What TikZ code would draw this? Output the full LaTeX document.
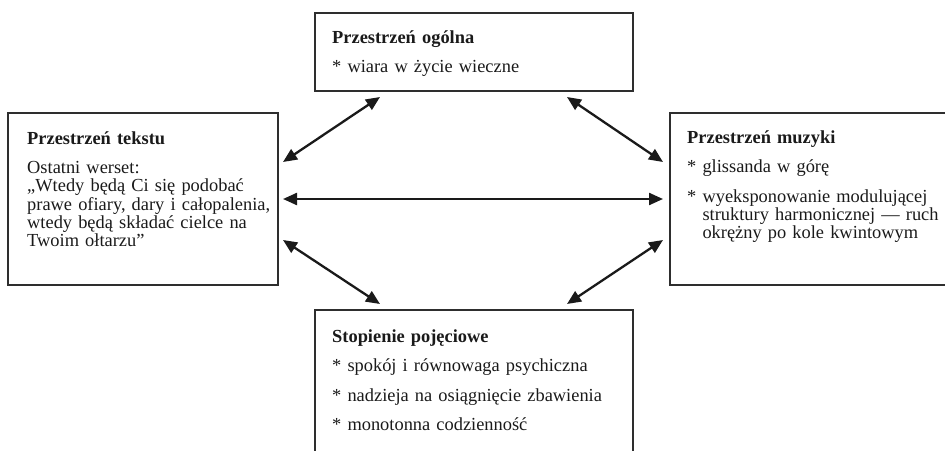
\documentclass[tikz,border=0pt]{standalone}
\usepackage{fontspec}
\setmainfont{Liberation Serif}
\usepackage{tikz}
\usetikzlibrary{arrows.meta}
\definecolor{psInk}{HTML}{1A1A1A}
\definecolor{psFrame}{HTML}{2E2E2E}
\tikzset{
  ps-box/.style={draw=psFrame, line width=1.4pt, anchor=north west,
    inner sep=0pt, outer sep=0pt},
  ps-text/.style={anchor=base west, align=left, text width=270pt,
    inner sep=0pt, text=psInk, font=\fontsize{18.4}{18.3}\selectfont},
  ps-link/.style={{Triangle[length=14pt,width=12pt]}-{Triangle[length=14pt,width=12pt]},
    line width=2.3pt, draw=psInk}
}
\newcommand{\psgap}{\\[11.2pt]}

\begin{document}
\begin{tikzpicture}[x=1pt, y=-1pt]
\useasboundingbox (0,0) rectangle (945,450);

% Boxes
\node[ps-box, minimum width=318pt, minimum height=78pt] (ogolna) at (315,13) {};
\node[ps-box, minimum width=270pt, minimum height=172pt] (tekst) at (8,113) {};
\node[ps-box, minimum width=280pt, minimum height=172pt] (muzyka) at (670,113) {};
\node[ps-box, minimum width=318pt, minimum height=150pt] (pojecia) at (315,310) {};

% Texts
\node[ps-text] (ogolna-txt) at ([shift={(17,30)}]ogolna.north west)
  {\textbf{Przestrzeń ogólna}\psgap * wiara w życie wieczne};
\node[ps-text] (tekst-txt) at ([shift={(19,31)}]tekst.north west)
  {\textbf{Przestrzeń tekstu}\psgap Ostatni werset:\\
  „Wtedy będą Ci się podobać\\ prawe ofiary, dary i całopalenia,\\
  wtedy będą składać cielce na\\ Twoim ołtarzu”};
\node[ps-text] (muzyka-txt) at ([shift={(17,30)}]muzyka.north west)
  {\textbf{Przestrzeń muzyki}\psgap * glissanda w górę\psgap
  * wyeksponowanie modulującej\\ \phantom{* }struktury harmonicznej — ruch\\
  \phantom{* }okrężny po kole kwintowym};
\node[ps-text] (pojecia-txt) at ([shift={(17,32)}]pojecia.north west)
  {\textbf{Stopienie pojęciowe}\psgap * spokój i równowaga psychiczna\psgap
  * nadzieja na osiągnięcie zbawienia\psgap * monotonna codzienność};

% Relations
\draw[ps-link] ([shift={(5,49)}]tekst.north east) -- ([shift={(65,6)}]ogolna.south west);
\draw[ps-link] ([shift={(-66,6)}]ogolna.south east) -- ([shift={(-7,49)}]muzyka.north west);
\draw[ps-link] ([xshift=5pt]tekst.east) -- ([xshift=-7pt]muzyka.west);
\draw[ps-link] ([shift={(5,-45)}]tekst.south east) -- ([shift={(65,-6)}]pojecia.north west);
\draw[ps-link] ([shift={(-7,-45)}]muzyka.south west) -- ([shift={(-66,-6)}]pojecia.north east);
\end{tikzpicture}
\end{document}
